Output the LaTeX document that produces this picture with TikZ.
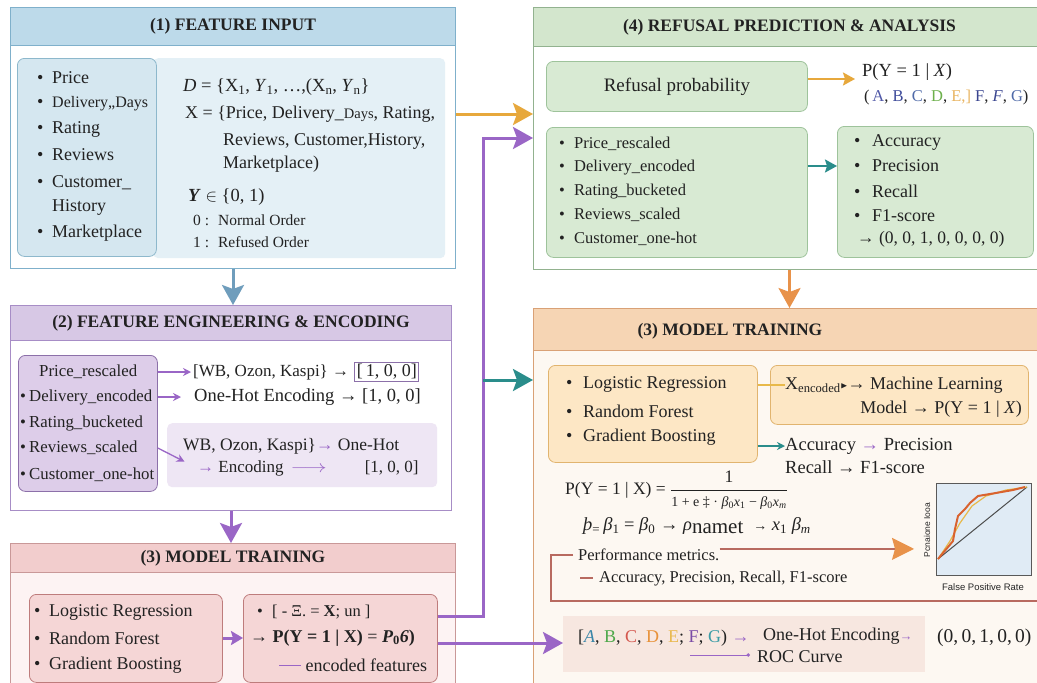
\documentclass[tikz,border=0pt]{standalone}
\usepackage{amsmath}
\usepackage{amssymb}
\usepackage{fontspec}
\setmainfont{Liberation Serif}
\setsansfont{Liberation Sans}
\usetikzlibrary{positioning,calc,arrows.meta}

\definecolor{ink}{HTML}{222222}
\definecolor{bluel}{HTML}{7FB0CB}
\definecolor{blueh}{HTML}{BDDAEA}
\definecolor{bluebx}{HTML}{D5E7F0}
\definecolor{bluebd}{HTML}{8DB8CC}
\definecolor{bluebg}{HTML}{E4F0F6}
\definecolor{bluear}{HTML}{6F9DBC}
\definecolor{purpl}{HTML}{A78DC6}
\definecolor{purph}{HTML}{D7C8E5}
\definecolor{purpbx}{HTML}{DDCDE9}
\definecolor{purpbd}{HTML}{8C70A9}
\definecolor{purpbg}{HTML}{EEE6F4}
\definecolor{purpar}{HTML}{9A66C6}
\definecolor{redl}{HTML}{C99898}
\definecolor{redh}{HTML}{F2CDCD}
\definecolor{redbx}{HTML}{F5D6D6}
\definecolor{redbd}{HTML}{BE7C7C}
\definecolor{redbg}{HTML}{FDF3F3}
\definecolor{greenl}{HTML}{92B28F}
\definecolor{greenh}{HTML}{D3E6CD}
\definecolor{greenbx}{HTML}{D8EAD3}
\definecolor{greenbd}{HTML}{9EC39B}
\definecolor{orgar}{HTML}{E7A83C}
\definecolor{org2}{HTML}{E8924A}
\definecolor{peachl}{HTML}{D9A176}
\definecolor{peachh}{HTML}{F6D5B4}
\definecolor{peachbx}{HTML}{FDE7C5}
\definecolor{peachbd}{HTML}{E1B46F}
\definecolor{cream}{HTML}{FDF8F2}
\definecolor{tealar}{HTML}{2A8D8B}
\definecolor{yel}{HTML}{E8B94A}
\definecolor{rocbg}{HTML}{E0EBF5}
\definecolor{rocred}{HTML}{D9622F}
\definecolor{botbg}{HTML}{F7E7E0}
\definecolor{brk}{HTML}{B86A60}
\definecolor{la}{HTML}{5058A8}
\definecolor{lb}{HTML}{3D4A9A}
\definecolor{lc}{HTML}{4F6AA8}
\definecolor{ld}{HTML}{6DB04B}
\definecolor{le}{HTML}{E9B562}
\definecolor{lf}{HTML}{3A4590}
\definecolor{ca}{HTML}{3A86A8}
\definecolor{cb}{HTML}{4DA84A}
\definecolor{cc}{HTML}{D4574E}
\definecolor{cd}{HTML}{E8923A}
\definecolor{ce}{HTML}{E9B94E}
\definecolor{cf}{HTML}{7A4BA6}
\definecolor{cg}{HTML}{3A9CA6}

\newcommand{\fsz}[1]{\fontsize{#1}{#1}\selectfont}
\newcommand{\bul}{\makebox[15pt][l]{\textbullet}}
\newcommand{\sbul}{\makebox[9pt][l]{\textbullet}}
\newcommand{\wbul}{\makebox[18pt][l]{\textbullet}}

\tikzset{
  panel/.style={draw=#1, line width=1pt, inner sep=0pt, anchor=north west},
  headbar/.style={draw=#1, line width=1pt, inner sep=0pt, anchor=north west,
    font=\fsz{17.5}\bfseries},
  rbox/.style={draw=#1, line width=0.8pt, rounded corners=7pt, inner sep=0pt,
    anchor=north west},
  shade/.style={fill=#1, inner sep=0pt, anchor=north west, rounded corners=5pt},
  txt/.style={anchor=west, inner sep=0pt, font=\fsz{16.5}},
}

\begin{document}
\begin{tikzpicture}[x=1pt, y=-1pt, every node/.style={text=ink}]
  \useasboundingbox (0,0) rectangle (1037,683);
  \fill[white] (0,0) rectangle (1037,683);

  % (1) feature input
  \node[panel=bluel, fill=white, minimum width=445, minimum height=261] (inp) at (10,7) {};
  \node[headbar=bluel, fill=blueh, minimum width=445, minimum height=38] (inph) at (10,7)
  {(1) FEATURE INPUT\hspace{22pt}};
  \node[shade=bluebg, minimum width=292, minimum height=200] (inpr) at (153,58) {};
  \node[rbox=bluebd, fill=bluebx, minimum width=139, minimum height=198] (inpl) at (17,58) {};
  \foreach \lbl/\yy [count=\i] in {{\bul Price}/78, {\bul{\fsz{16}Delivery,,Days}}/104,
    {\bul Rating}/129, {\bul Reviews}/155, {\bul Customer\_}/183,
    {\hspace*{15pt}History}/207, {\bul Marketplace}/233}
  \node[txt, font=\fsz{18}] (inpl\i) at (37,\yy) {\lbl};
  \node[txt, font=\fsz{18.5}] (dset) at (183,87) {\textit{D} = \{X\textsubscript{1}, \textit{Y}\textsubscript{1}, …,(X\textsubscript{n}, \textit{Y}\textsubscript{n}\}};
  \node[txt, font=\fsz{18}] (xset) at (185,114) {X = \{Price, Delivery\_{\fsz{14.5}Days}, Rating,};
  \node[txt, font=\fsz{18}] (xset2) at (223,141) {Reviews, Customer,History,};
  \node[txt, font=\fsz{18}] (xset3) at (223,164) {Marketplace)};
  \node[txt, font=\fsz{18.5}] (yset) at (188,197) {\textbf{\textit{Y}} $\in$ \{0, 1)};
  \node[txt, font=\fsz{15.5}] (yzero) at (193,220) {0 :\hspace{9pt}Normal Order};
  \node[txt, font=\fsz{15.5}] (yone) at (193,242) {1 :\hspace{9pt}Refused Order};

  % (2) feature engineering
  \node[panel=purpl, fill=white, minimum width=441, minimum height=205] (fe) at (10,305) {};
  \node[headbar=purpl, fill=purph, minimum width=441, minimum height=35] (feh) at (10,305)
  {(2) FEATURE ENGINEERING \& ENCODING\hspace{23pt}};
  \node[shade=purpbg, minimum width=270, minimum height=64] (fesh) at (167,423) {};
  \node[rbox=purpbd, fill=purpbx, minimum width=139, minimum height=136] (fel) at (18,355) {};
  \node[txt, font=\fsz{16.8}] (fel1) at (39,372) {Price\_rescaled};
  \foreach \lbl/\yy [count=\i from 2] in {Delivery\_encoded/397, Rating\_bucketed/423,
    Reviews\_scaled/448, Customer\_one-hot/475}
  \node[txt, font=\fsz{16.8}] (fel\i) at (20,\yy) {\sbul\lbl};
  \node[txt, font=\fsz{17}] (wb) at (193,372) {[WB, Ozon, Kaspi\} →};
  \node[draw=purpbd, line width=0.9pt, inner sep=2pt, font=\fsz{18}, right=5pt of wb] (vec) {[\,1, 0, 0]};
  \node[txt, font=\fsz{18.5}] (oh) at (194,397) {One-Hot Encoding → [1, 0, 0]};
  \node[txt, font=\fsz{17.5}] (wbb) at (183,446) {WB, Ozon, Kaspi\}\textcolor{purpar}{→} One-Hot};
  \node[txt, font=\fsz{17}] (enc) at (197,468) {\textcolor{purpar}{→} Encoding\hspace{7pt}\textcolor{purpar}{\scalebox{1.3}[1]{$\longrightarrow$}}\hspace{38pt}[1, 0, 0]};

  \begin{scope}[-{Stealth[length=8pt,width=8pt]}, purpar, line width=1.3pt]
    \draw[shorten >=2pt] (fel.east |- fel1) -- (wb.west);
    \draw[shorten >=13pt] (fel.east |- oh) -- (oh.west);
    \draw[shorten >=14pt] (fel.east |- fel4) -- (enc.west);
  \end{scope}

  % (3) model training, left
  \node[panel=redl, fill=redbg, minimum width=445, minimum height=150] (mt) at (10,543) {};
  \node[headbar=redl, fill=redh, minimum width=445, minimum height=29] (mth) at (10,543)
  {(3) MODEL TRAINING\hspace{25pt}};
  \node[rbox=redbd, fill=redbx, minimum width=193, minimum height=88] (mtl) at (29,594) {};
  \node[rbox=redbd, fill=redbx, minimum width=194, minimum height=88] (mtr) at (243,594) {};
  \foreach \lbl/\yy [count=\i] in {Logistic Regression/612, Random Forest/638, Gradient Boosting/665}
  \node[txt, font=\fsz{18}] (mtl\i) at (34,\yy) {\bul\lbl};
  \node[txt, font=\fsz{16.5}] (mtr1) at (257,612) {\bul[ - Ξ. = \textbf{X}; un ]};
  \node[txt, font=\fsz{18}] (mtr2) at (250,638) {→ \textbf{P(Y = 1 | X)} = \textbf{\textit{P}\textsubscript{0}\textit{6})}};
  \node[txt, font=\fsz{18}] (mtr3) at (279,665) {\textcolor{purpar}{\rule[5pt]{22pt}{1.3pt}}\ encoded features};
  \draw[purpar, line width=3pt, -{Stealth[length=12pt,width=14pt,inset=2pt]}]
  (mtl.east |- mtl2) -- (mtr.west |- mtl2);

  % (4) refusal prediction
  \node[panel=greenl, fill=white, minimum width=512, minimum height=262] (rp) at (533,7) {};
  \node[headbar=greenl, fill=greenh, minimum width=512, minimum height=39] (rph) at (533,7)
  {(4) REFUSAL PREDICTION \& ANALYSIS};
  \node[rbox=greenbd, fill=greenbx, minimum width=261, minimum height=50, font=\fsz{19}] (prob) at (546,61)
  {Refusal probability};
  \coordinate (pe) at (855,79);
  \node[txt, font=\fsz{18.5}] (pyx) at (862,72) {P(Y = 1 | \textit{X})};
  \node[txt, font=\fsz{16.5}] (abc) at (864,98) {(\,\textcolor{la}{A}, \textcolor{lb}{B}, \textcolor{lc}{C}, \textcolor{ld}{D}, \textcolor{le}{E,]} \textcolor{lf}{F}, \textcolor{lf}{\textit{F}}, \textcolor{lc}{G})};
  \node[rbox=greenbd, fill=greenbx, minimum width=261, minimum height=130] (feat) at (546,127) {};
  \foreach \lbl/\yy [count=\i] in {Price\_rescaled/144, Delivery\_encoded/168,
    Rating\_bucketed/192, Reviews\_scaled/215, Customer\_one-hot/239}
  \node[txt] (feat\i) at (559,\yy) {\bul\lbl};
  \node[rbox=greenbd, fill=greenbx, minimum width=196, minimum height=131] (met) at (837,126) {};
  \foreach \lbl/\yy [count=\i] in {Accuracy/142, Precision/166, Recall/191, F1-score/216}
  \node[txt, font=\fsz{18}] (met\i) at (854,\yy) {\wbul\lbl};
  \node[txt, font=\fsz{17.5}] (met5) at (857,239) {→ (0, 0, 1, 0, 0, 0, 0)};

  \draw[orgar, line width=2pt, -{Stealth[length=12pt,width=13pt,inset=2pt]}] (prob.east |- pe) -- (pe);
  \draw[tealar, line width=2.2pt, -{Stealth[length=12pt,width=13pt,inset=2pt]}] (feat.east |- met2) -- (met.west |- met2);

  % (3) model training, right
  \node[panel=peachl, fill=cream, minimum width=512, minimum height=385] (tr) at (533,308) {};
  \node[headbar=peachl, fill=peachh, minimum width=512, minimum height=42] (trh) at (533,308) {};
  \node[font=\fsz{17.5}\bfseries] (trt) at (730,331) {(3) MODEL TRAINING};
  \node[rbox=peachbd, fill=peachbx, minimum width=209, minimum height=97] (tl) at (548,365) {};
  \foreach \lbl/\yy [count=\i] in {Logistic Regression/384, Random Forest/411, Gradient Boosting/437}
  \node[txt, font=\fsz{18}] (tl\i) at (566,\yy) {\makebox[17pt][l]{\textbullet}\lbl};
  \node[rbox=peachbd, fill=peachbx, minimum width=258, minimum height=59] (tm) at (770,365) {};
  \node[txt, font=\fsz{18}] (xe) at (785,385) {X\textsubscript{encoded}\raisebox{1pt}{\scalebox{0.5}{$\blacktriangleright$}}→ Machine Learning};
  \node[txt, anchor=east, font=\fsz{18}] (mdl) at (1022,409) {Model → P(Y = 1 | \textit{X})};
  \node[txt, font=\fsz{18.5}] (accp) at (785,446) {Accuracy \textcolor{purpar}{→} Precision};
  \node[txt, font=\fsz{18.5}] (rcf) at (785,467) {Recall → F1-score};
  \draw[yel, line width=1.5pt] (tl.east |- xe) -- (xe.west);
  \draw[tealar, line width=1.5pt, -{Stealth[length=8pt,width=8pt]}] (tl.east |- accp) -- (accp.west);

  \node[txt, font=\fsz{17.5}] (fml) at (565,490) {P(Y = 1 | X) = $\dfrac{\mbox{1}}{\mbox{\fsz{14}1 + e ‡ · \textit{β}\textsubscript{0}\textit{x}\textsubscript{1} − \textit{β}\textsubscript{0}\textit{x}\textsubscript{\textit{m}}}}$};
  \node[txt, font=\fsz{18.5}] (bet) at (583,526) {\textit{þ}\textsubscript{=}\,\textit{β}\textsubscript{1} = \textit{β}\textsubscript{0} → \textit{ρ}\raisebox{-3pt}{\fsz{21}namet}\hspace{10pt}{\fsz{14}→} \textit{x}\textsubscript{1} \textit{β}\textsubscript{\textit{m}}};

  \node[txt] (perf) at (578,555) {Performance metrics.};
  \node[txt] (accl) at (580,579) {\textcolor{brk}{\rule[4pt]{13pt}{1.5pt}}\hspace{6pt}Accuracy, Precision, Recall, F1-score};
  \coordinate (brkend) at (1040,601);
  \draw[brk, line width=1.3pt] ([xshift=-5pt]perf.west) -- ++(-22,0) |- (brkend);

  % roc chart
  \node[draw=gray!70!black, line width=1pt, fill=rocbg, inner sep=0pt, anchor=north west,
  minimum width=95, minimum height=92] (roc) at (936,483) {};
  \begin{scope}[shift={(roc.south west)}]
    \draw[gray!60!black, line width=1pt] (2,-17) -- (91,-89);
    \draw[yel, line width=1.2pt] (2,-17) -- (14,-35) -- (24,-53) -- (36,-70) -- (50,-80) -- (70,-86) -- (91,-89);
    \draw[rocred, line width=2pt, line join=round] (2,-17) -- (17,-35) -- (19,-47) -- (22,-60) -- (29,-67)
    -- (34,-73) -- (42,-80) -- (54,-82) -- (77,-86) -- (89,-89);
  \end{scope}
  \node[rotate=90, inner sep=0pt, font=\sffamily\fsz{8.5}, text=gray!30!black] (rocy) at (927,530) {Pcnaione Iooa};
  \node[inner sep=0pt, font=\sffamily\fsz{9.5}, text=gray!30!black] (rocx) at (983,587) {False Positive Rate};
  \draw[brk, line width=1.3pt, -{Stealth[length=22pt,width=22pt,inset=3pt,color=org2]}, shorten >=22pt]
  (perf.north east) -- (roc.west |- perf.north east);

  % encoding strip
  \node[shade=botbg, rounded corners=0pt, minimum width=362, minimum height=56] (bot) at (563,616) {};
  \node[txt, font=\fsz{18}] (abcb) at (578,638) {[\textit{\textcolor{ca}{A}}, \textcolor{cb}{B}, \textcolor{cc}{C}, \textcolor{cd}{D}, \textcolor{ce}{E}; \textcolor{cf}{F}; \textcolor{cg}{G}) \textcolor{purpar}{→}};
  \node[txt, font=\fsz{18}] (ohe) at (763,636) {One-Hot Encoding\textcolor{purpar}{\fsz{13}→}};
  \node[txt, font=\fsz{19.5}] (tup) at (937,638) {(0,\,0,\,1,\,0,\,0)};
  \node[txt, font=\fsz{18}] (rocc) at (757,657) {ROC Curve};
  \coordinate (rl) at (690,655);
  \draw[purpar, line width=1pt, -{Circle[length=3.5pt]}, shorten >=7pt] (rl) -- (rl -| rocc.west);

  % connectors between panels
  \coordinate (oy) at (0,114);
  \coordinate (bend) at (483,138);
  \coordinate (ty) at (0,380);
  \coordinate (py) at (0,643);
  \begin{scope}[-{Stealth[length=20pt,width=22pt,inset=4pt]}, line width=3pt]
    \draw[bluear] (inp.south) -- (inp.south |- fe.north);
    \draw[purpar] (fe.south) -- (fe.south |- mt.north);
    \draw[orgar] (inp.east |- oy) -- (rp.west |- oy);
    \draw[purpar] ($(mtr.north east)+(0,22)$) -| (bend) -- (rp.west |- bend);
    \draw[tealar] (bend |- ty) -- (tr.west |- ty);
    \draw[purpar] (mtr.east |- py) -- (bot.west |- py);
    \draw[org2, line width=2.5pt] (rp.south) -- (rp.south |- tr.north);
  \end{scope}
\end{tikzpicture}
\end{document}
